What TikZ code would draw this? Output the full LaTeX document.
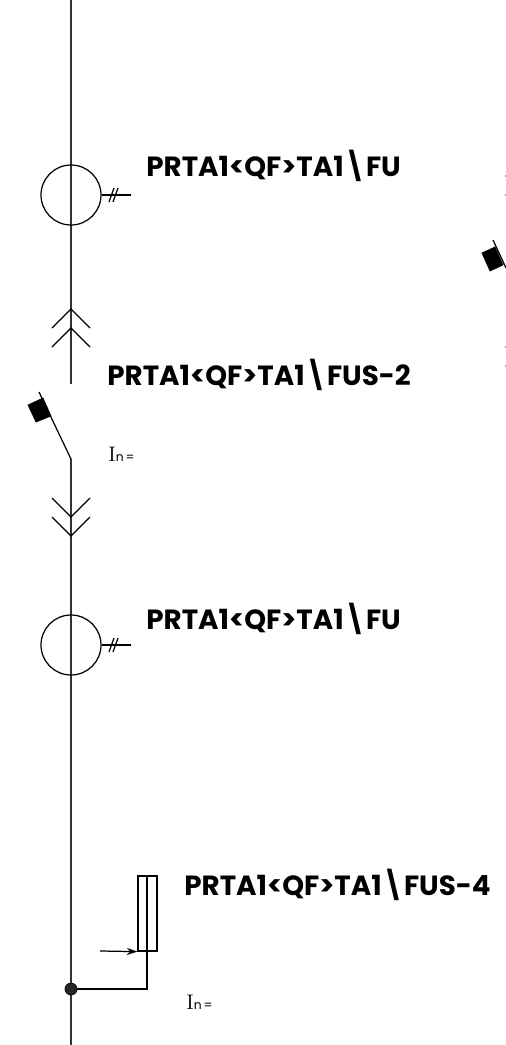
\documentclass[tikz,border=0pt]{standalone}
\usepackage{fontspec}
\setsansfont{Poppins}
\usepackage{tikz}
\usetikzlibrary{arrows.meta}

\begin{document}
\begin{tikzpicture}[x=0.02cm, y=-0.02cm]
\tikzset{repere/.style={anchor=west, inner sep=0pt, font=\sffamily\bfseries\fontsize{15.8}{15.8}\selectfont},
  calibre/.style={anchor=west, inner sep=0pt, font=\rmfamily\fontsize{12}{12}\selectfont},
  tore/.style={draw, line width=0.7pt, circle, minimum size=1.2cm, inner sep=0pt},
  volet/.style={fill=black, draw=black},
  trait/.style={line width=0.7pt},
  bus/.style={line width=0.9pt, black!80},
  point/.style={draw, circle, fill=black!85, minimum size=0.24cm, inner sep=0pt}}
\useasboundingbox (0, 0) rectangle (506, 1045);
\clip (0, 0) rectangle (506, 1045);
\coordinate (B0) at (71, 0);
\coordinate (B1) at (71, 384);
\coordinate (B2) at (71, 459);
\coordinate (B3) at (71, 1045);
\coordinate (S1) at (39, 392);
\draw[bus] (B0) -- (B1);
\draw[bus] (B2) -- (B3);
\draw[trait] (B2) -- (S1);
\draw[volet] (28, 405) -- (43, 398) -- (51, 416) -- (36, 422) -- cycle;
% tores
\node[tore] (T1) at (71, 195) {};
\node[tore] (T2) at (71, 645) {};
\coordinate (T1e) at (131, 195);
\coordinate (T2e) at (131, 645);
\draw[trait] (T1) -- (T1e);
\draw[trait] (T2) -- (T2e);
\foreach \y in {195, 645} {
  \draw[trait] (109, \y+7) -- (114, \y-7);
  \draw[trait] (113, \y+7) -- (118, \y-7);
}
% embrochage
\foreach \y in {309, 328} {
  \draw[trait] (52, \y+19) -- (71, \y) -- (90, \y+19);
}
\foreach \y in {517, 536} {
  \draw[trait] (52, \y-19) -- (71, \y) -- (90, \y-19);
}
% differentiel
\node[draw, line width=0.7pt, minimum width=0.38cm, minimum height=1.5cm, inner sep=0pt] (R1) at (147.5, 913.5) {};
\node[point] (P1) at (71, 989) {};
\coordinate (C1) at (147, 989);
\coordinate (C2) at (147, 876);
\coordinate (F1) at (100, 951);
\draw[trait] (P1) -- (C1) -- (C2);
\draw[trait, -{Stealth[length=6pt, width=4pt]}] (F1) -- (R1.south west);
% bord droit
\coordinate (S2) at (493, 240);
\coordinate (S3) at (506, 268);
\draw[trait] (S2) -- (S3);
\draw[volet] (482, 253) -- (495, 247) -- (503, 265) -- (490, 271) -- cycle;
\foreach \y in {176, 195, 347, 366} {
  \fill[black!40] (505, \y-1) rectangle (506, \y+1);
}
% textes
\node[repere] (L1) at (146, 166) {PRTA1<QF>TA1\textbackslash FU};
\node[repere] (L2) at (107, 375) {PRTA1<QF>TA1\textbackslash FUS-2};
\node[repere] (L3) at (146, 619) {PRTA1<QF>TA1\textbackslash FU};
\node[repere] (L4) at (184, 885) {PRTA1<QF>TA1\textbackslash FUS-4};
\node[calibre] (I1) at (108, 454) {I{\sffamily\fontsize{7}{7}\selectfont n\,=}};
\node[calibre] (I2) at (186, 1002) {I{\sffamily\fontsize{7}{7}\selectfont n\,=}};
\end{tikzpicture}
\end{document}
